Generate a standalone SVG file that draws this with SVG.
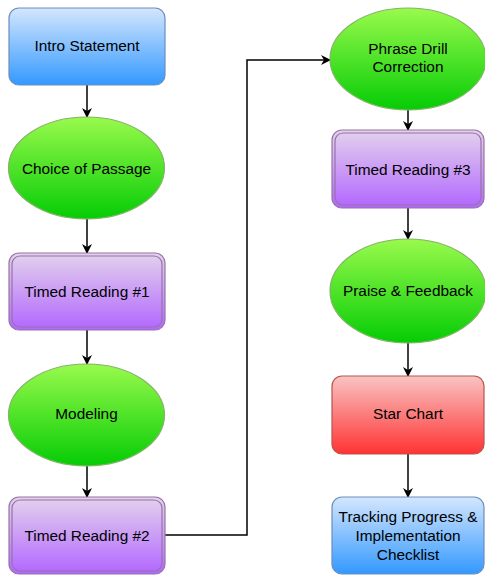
<svg xmlns="http://www.w3.org/2000/svg" width="485" height="575" viewBox="0 0 485 575">
<defs>
<linearGradient id="gBlue" x1="0" y1="0" x2="0" y2="1"><stop offset="0" stop-color="#d4e6fd"/><stop offset="1" stop-color="#3399ff"/></linearGradient>
<linearGradient id="gGreen" x1="0" y1="0" x2="0" y2="1"><stop offset="0" stop-color="#99fa4c"/><stop offset="1" stop-color="#05cc05"/></linearGradient>
<linearGradient id="gPurple" x1="0" y1="0" x2="0" y2="1"><stop offset="0" stop-color="#e3d2ec"/><stop offset="1" stop-color="#b266ff"/></linearGradient>
<linearGradient id="gRed" x1="0" y1="0" x2="0" y2="1"><stop offset="0" stop-color="#f8c4c3"/><stop offset="1" stop-color="#ff3333"/></linearGradient>
<marker id="arr" viewBox="0 0 10 10" refX="9" refY="5" markerWidth="10" markerHeight="10" markerUnits="userSpaceOnUse" orient="auto"><path d="M0,0 L10,5 L0,10 L3,5 z" fill="#000"/></marker>
</defs>
<style>
.blue{fill:url(#gBlue);stroke:#6c8ebf;stroke-width:1.2}
.green{fill:url(#gGreen);stroke:#82b366;stroke-width:1.2}
.purple{fill:url(#gPurple);stroke:#9673a6;stroke-width:1.2}
.pin{fill:none;stroke:#9673a6;stroke-width:1.2}
.red{fill:url(#gRed);stroke:#b85450;stroke-width:1.2}
.t{font-family:"Liberation Sans",Arial,sans-serif;font-size:15.4px;fill:#000;text-anchor:middle}
.c{fill:none;stroke:#000;stroke-width:1.5;marker-end:url(#arr)}
</style>
<g id="connectors">
<path class="c" d="M87,85 V117"/>
<path class="c" d="M87,219 V253"/>
<path class="c" d="M87,330 V364"/>
<path class="c" d="M87,466 V497"/>
<path class="c" d="M165,535 H247 V60 H330"/>
<path class="c" d="M408,110 V130"/>
<path class="c" d="M408,208 V239"/>
<path class="c" d="M408,343 V376"/>
<path class="c" d="M408,454 V497"/>
</g>
<g id="intro"><rect class="blue" x="9" y="8" width="156" height="77" rx="10"/><text class="t" x="87" y="51">Intro Statement</text></g>
<g id="choice"><ellipse class="green" cx="86.5" cy="168" rx="78" ry="51"/><text class="t" x="86.5" y="174">Choice of Passage</text></g>
<g id="tr1"><rect class="purple" x="9" y="253" width="156" height="77" rx="10"/><rect class="pin" x="12" y="256" width="150" height="71" rx="8"/><text class="t" x="87" y="297">Timed Reading #1</text></g>
<g id="modeling"><ellipse class="green" cx="86.5" cy="415" rx="78" ry="51"/><text class="t" x="86.5" y="419">Modeling</text></g>
<g id="tr2"><rect class="purple" x="9" y="497" width="156" height="77" rx="10"/><rect class="pin" x="12" y="500" width="150" height="71" rx="8"/><text class="t" x="87" y="541">Timed Reading #2</text></g>
<g id="phrase"><ellipse class="green" cx="408" cy="59" rx="78" ry="51"/><text class="t" x="408" y="54">Phrase Drill</text><text class="t" x="408" y="72">Correction</text></g>
<g id="tr3"><rect class="purple" x="332" y="130" width="152" height="78" rx="10"/><rect class="pin" x="335" y="133" width="146" height="72" rx="8"/><text class="t" x="408" y="175">Timed Reading #3</text></g>
<g id="praise"><ellipse class="green" cx="408" cy="291" rx="78" ry="52"/><text class="t" x="408" y="296">Praise &amp; Feedback</text></g>
<g id="star"><rect class="red" x="332" y="376" width="152" height="78" rx="10"/><text class="t" x="408" y="419">Star Chart</text></g>
<g id="tracking"><rect class="blue" x="332" y="497" width="152" height="77" rx="10"/><text class="t" x="408" y="522">Tracking Progress &amp;</text><text class="t" x="408" y="541">Implementation</text><text class="t" x="408" y="560">Checklist</text></g>
</svg>
